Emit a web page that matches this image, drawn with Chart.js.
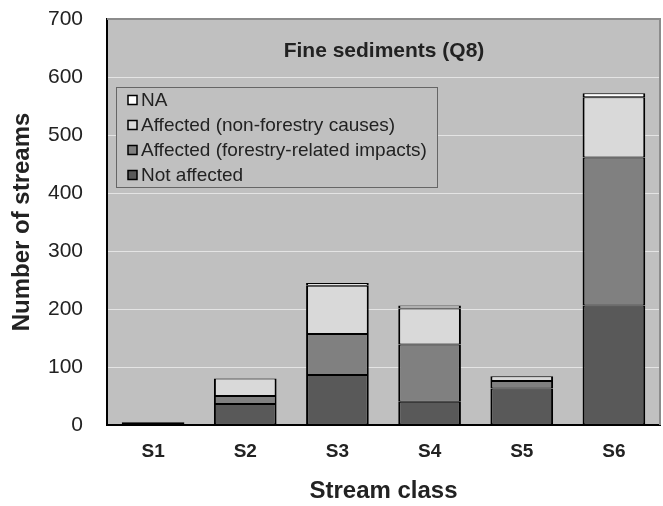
<!DOCTYPE html>
<html lang="en">
<head>
  <meta charset="UTF-8" />
  <title>Fine sediments (Q8)</title>
  <script src="https://cdn.jsdelivr.net/npm/chart.js"></script>
  <style>
    html, body { margin: 0; padding: 0; background: #fff; }
    #wrap { width: 663px; height: 506px; position: relative; }
  </style>
</head>
<body>
  <div id="wrap"><canvas id="grafico" width="663" height="506"></canvas></div>

  <script>
    // data
    const classes = ["S1", "S2", "S3", "S4", "S5", "S6"];
    const notAffected = [4, 36, 86, 40, 63, 206];
    const forestry = [1, 14, 71, 99, 13, 255];
    const nonForestry = [0, 30, 83, 62, 8, 104];
    const naValues = [0, 0, 5, 5, 0, 7];
    const yTicks = [0, 100, 200, 300, 400, 500, 600, 700];

    const chartTitle = "Fine sediments (Q8)";
    const FONT = "'Liberation Sans', Arial, sans-serif";

    // plot background, frame, title and in-plot legend
    const plotExtras = {
      id: "plotExtras",
      beforeDraw(chart) {
        const { ctx, chartArea: a } = chart;
        ctx.save();
        ctx.fillStyle = "#c0c0c0";
        ctx.fillRect(a.left, a.top, a.width, a.height);
        ctx.restore();
      },
      afterDatasetsDraw(chart) {
        const { ctx, chartArea: a } = chart;
        ctx.save();
        // frame top / right
        ctx.strokeStyle = "#8c8c8c";
        ctx.lineWidth = 2;
        ctx.beginPath();
        ctx.moveTo(a.left, a.top);
        ctx.lineTo(a.right, a.top);
        ctx.lineTo(a.right, a.bottom);
        ctx.stroke();

        // title inside plot
        ctx.fillStyle = "#222";
        ctx.font = "bold 21px " + FONT;
        ctx.textAlign = "center";
        ctx.textBaseline = "middle";
        ctx.fillText(chartTitle, 384, 51);

        // legend box
        const bx = 116, by = 87, bw = 321, bh = 100;
        ctx.fillStyle = "#c0c0c0";
        ctx.fillRect(bx, by, bw, bh);
        ctx.strokeStyle = "#666";
        ctx.lineWidth = 1;
        ctx.strokeRect(bx + 0.5, by + 0.5, bw, bh);
        const items = chart.data.datasets.slice().reverse();
        ctx.font = "19px " + FONT;
        ctx.textAlign = "left";
        items.forEach((ds, i) => {
          const cy = by + 13 + i * 25;
          ctx.fillStyle = ds.backgroundColor;
          ctx.fillRect(128, cy - 4.5, 9, 9);
          ctx.strokeStyle = "#000";
          ctx.lineWidth = 1.5;
          ctx.strokeRect(128, cy - 4.5, 9, 9);
          ctx.fillStyle = "#222";
          ctx.fillText(ds.label, 141, cy + 1);
        });
        ctx.restore();
      }
    };

    const ds = (label, data, color) => ({
      label, data, backgroundColor: color,
      borderColor: "#000",
      borderWidth: { top: 1, bottom: 1, left: 2, right: 2 },
      borderSkipped: false,
      barPercentage: 0.68, categoryPercentage: 1
    });

    new Chart(document.getElementById("grafico"), {
      type: "bar",
      data: {
        labels: classes,
        datasets: [
          ds("Not affected", notAffected, "#595959"),
          ds("Affected (forestry-related impacts)", forestry, "#808080"),
          ds("Affected (non-forestry causes)", nonForestry, "#d9d9d9"),
          ds("NA", naValues, "#ffffff")
        ]
      },
      plugins: [plotExtras],
      options: {
        responsive: false,
        animation: false,
        devicePixelRatio: 1,
        layout: { padding: { top: 19, right: 3, left: 0, bottom: 0 } },
        plugins: { legend: { display: false }, tooltip: { enabled: false } },
        scales: {
          x: {
            stacked: true,
            grid: { display: false, drawTicks: false },
            border: { color: "#000", width: 2 },
            ticks: { padding: 15, color: "#222", font: { family: FONT, size: 19, weight: "bold" } },
            title: {
              display: true, text: "Stream class", color: "#222",
              font: { family: FONT, size: 24, weight: "bold" }, padding: { top: 0, bottom: 0 }
            },
            afterFit: s => { s.height = 81; }
          },
          y: {
            stacked: true,
            min: 0, max: 700,
            afterBuildTicks: s => { s.ticks = yTicks.map(v => ({ value: v })); },
            grid: {
              drawTicks: false,
              color: c => (c.tick.value === 0 || c.tick.value === 700) ? "rgba(0,0,0,0)" : "#e4e4e4",
              lineWidth: 1
            },
            border: { color: "#000", width: 2 },
            ticks: { padding: 24, color: "#222", font: { family: FONT, size: 21 } },
            title: {
              display: true, text: "Number of streams", color: "#222",
              font: { family: FONT, size: 24, weight: "bold" }, padding: { top: 8, bottom: 0 }
            },
            afterFit: s => { s.width = 107; s.paddingTop = 0; s.paddingBottom = 0; }
          }
        }
      }
    });
  </script>
</body>
</html>
